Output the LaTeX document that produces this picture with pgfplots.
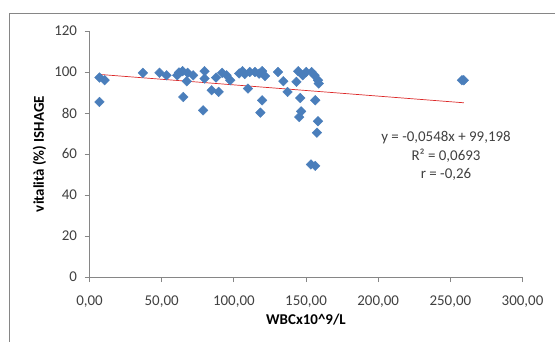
\documentclass[border=0pt]{standalone}
\usepackage{pgfplots}
\pgfplotsset{compat=1.18}
\usepackage{fontspec}
\setmainfont{Carlito}
\definecolor{mkblue}{RGB}{74,126,187}
\definecolor{axgray}{RGB}{134,134,134}
\definecolor{txtgray}{RGB}{64,64,64}
\definecolor{trendred}{RGB}{220,40,40}
\begin{document}
\begin{tikzpicture}[x=1bp,y=1bp]
\useasboundingbox (0,0) rectangle (555,341);
\draw[axgray, line width=0.9bp] (9,-20) rectangle (620,327.5);
\begin{axis}[
  at={(89.5bp,64bp)}, anchor=south west,
  scale only axis, width=433bp, height=246bp,
  xmin=0, xmax=300, ymin=0, ymax=120,
  xtick={0,50,100,150,200,250,300},
  ytick={0,20,40,60,80,100,120},
  axis x line*=bottom, axis y line*=left,
  axis line style={axgray, line width=0.8bp, -},
  tick style={axgray, line width=0.8bp},
  tick align=outside, major tick length=5bp,
  x tick label style={font=\fontsize{15}{17}\selectfont, text=txtgray, anchor=center, yshift=-20bp},
  y tick label style={font=\fontsize{15}{17}\selectfont, text=txtgray, anchor=east, xshift=-4bp},
  /pgf/number format/assume math mode=true,
  x tick label style={/pgf/number format/.cd, use comma, fixed, fixed zerofill, precision=2, 1000 sep={}},
  y tick label style={/pgf/number format/.cd, fixed, precision=0},
  xlabel={\textbf{WBCx10\textasciicircum 9/L}},
  ylabel={\textbf{vitalità (\%) ISHAGE}},
  xlabel style={font=\fontsize{15}{17}\selectfont, at={(axis description cs:0.5,-0.172)}, anchor=center},
  ylabel style={font=\fontsize{15}{17}\selectfont, at={(axis description cs:-0.1155,0.5)}, anchor=center},
  clip=false,
]
\addplot[only marks, mark=square*, mark size=3.4bp, mark options={rotate=45, fill=mkblue, draw=mkblue}] coordinates {
(6.9,97.3) (6.9,85.4) (10.5,96) (37,99.6) (48.5,99.6) (53.4,98.4) (60.8,98.4)
(62,99.8) (64.5,100.4) (65,87.8) (68,99.6) (67.4,95.5) (71.8,98.4) (79.7,100.4)
(78.7,81.3) (79.7,96.8) (84.6,91.1) (87.7,97.3) (89.5,90.3) (91.9,99.6) (95,98.4)
(97.5,96) (103.7,99.3) (106,100.4) (107.5,99) (109.8,91.9) (111,100) (114.7,100)
(117.5,99.2) (119.6,100.4) (118.4,80.2) (119.6,86.2) (121.6,98) (130.6,100)
(134.3,95.5) (137.2,90.3) (143.4,95.2) (144.6,100.4) (145.3,78) (146.6,80.8)
(146,87.3) (147.8,98.4) (150.2,100) (153.9,100) (155.9,98.4) (156.4,86.2)
(158.3,96) (158.8,94.4) (158.3,76) (157.6,70.4) (153.4,54.9) (156.4,54.2)
(258,96) (259.3,96)
};
\addplot[trendred, line width=0.7bp] coordinates {(6.9,98.82) (259.3,84.99)};
\node[font=\fontsize{15}{17}\selectfont, text=txtgray] at (axis cs:247,68.1) {y = -0,0548x + 99,198};
\node[font=\fontsize{15}{17}\selectfont, text=txtgray] at (axis cs:247,59.3) {R² = 0,0693};
\node[font=\fontsize{15}{17}\selectfont, text=txtgray] at (axis cs:247,50.0) {r = -0,26};
\end{axis}
\end{tikzpicture}
\end{document}
